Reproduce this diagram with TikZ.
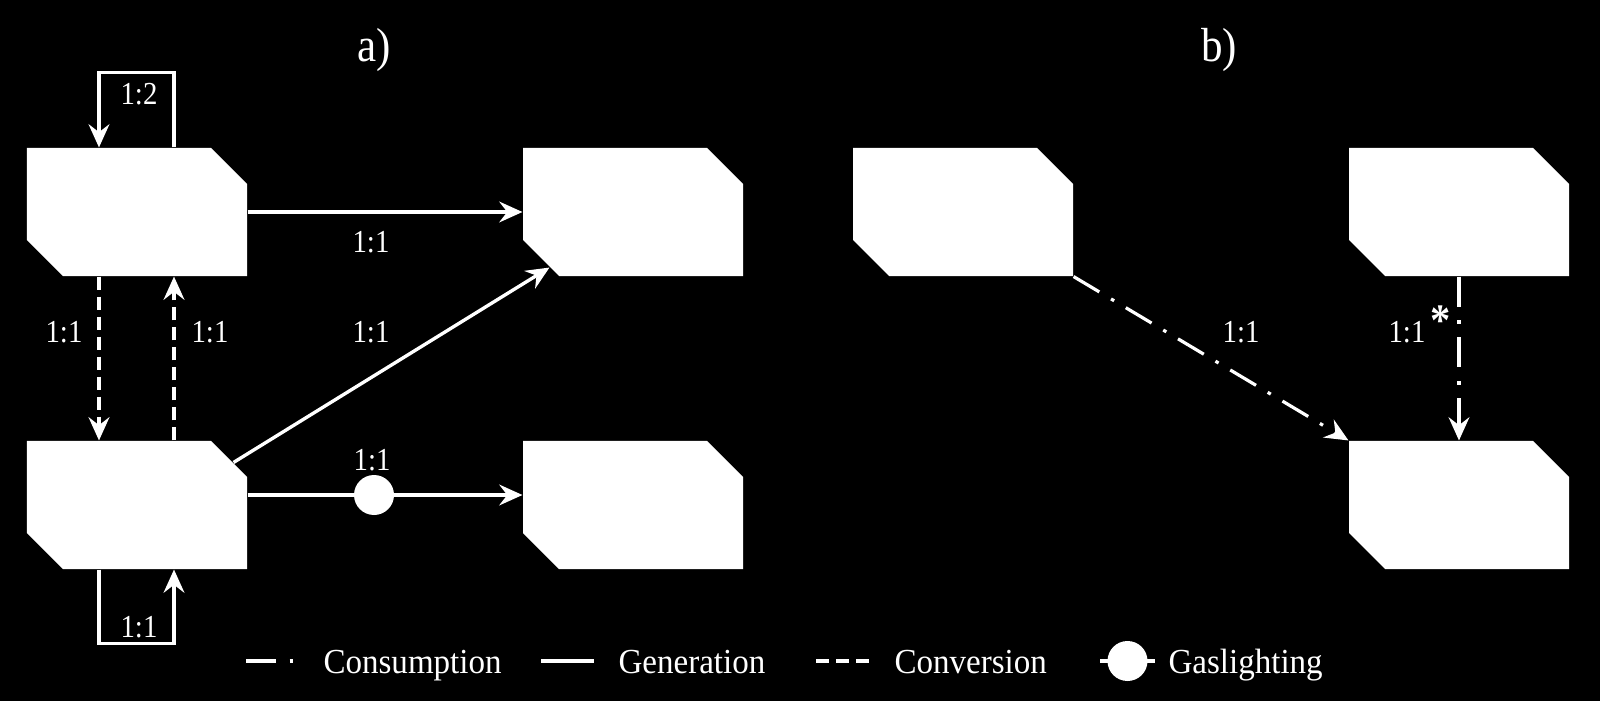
\documentclass[tikz,border=0pt]{standalone}
\usepackage{fontspec}
\setmainfont{Liberation Serif}
\newfontfamily\labfont[FakeStretch=0.9]{Liberation Serif}
\newfontfamily\legfont[FakeStretch=0.94]{Liberation Serif}
\usetikzlibrary{positioning,arrows.meta,calc}

\begin{document}
\begin{tikzpicture}[x=0.125mm, y=-0.125mm,
  tip/.style={-{Stealth[length=2.9mm, width=2.6mm, inset=1mm]}},
  gen/.style={white, line width=0.42mm},
  conv/.style={white, line width=0.56mm, dash pattern=on 1.625mm off 0.875mm},
  cons/.style={white, line width=0.4mm, dash pattern=on 3.75mm off 1.7mm on 0.45mm off 1.7mm},
  blk/.style={minimum width=27.5mm, minimum height=16mm, inner sep=0pt,
    path picture={\fill[white] (path picture bounding box.north west)
      -- ([xshift=-4.5mm]path picture bounding box.north east)
      -- ([yshift=-4.5mm]path picture bounding box.north east)
      -- (path picture bounding box.south east)
      -- ([xshift=4.5mm]path picture bounding box.south west)
      -- ([yshift=4.5mm]path picture bounding box.south west) -- cycle;}},
  gas/.style={circle, fill=white, minimum size=5mm, inner sep=0pt},
  lab/.style={white, font=\labfont\fontsize{11.4}{13}\selectfont, inner sep=0pt, anchor=base},
  ttl/.style={white, font=\labfont\fontsize{17}{20}\selectfont, inner sep=0pt, anchor=base},
  leg/.style={white, font=\legfont\fontsize{12.5}{14}\selectfont, inner sep=0pt, anchor=base west}]
% background
\path[use as bounding box, fill=black] (0,0) rectangle (1600,701);
% panel titles
\node[ttl] (ta) at (374,62) {a)};
\node[ttl] (tb) at (1219,62) {b)};
% boxes of panel a
\node[blk] (A1) at (137,212) {};
\node[blk] (B1) at (633,212) {};
\node[blk] (A2) at (137,505) {};
\node[blk] (B2) at (633,505) {};
% boxes of panel b
\node[blk] (C1) at (963,212) {};
\node[blk] (D1) at (1459,212) {};
\node[blk] (D2) at (1459,505) {};
% self loops
\draw[gen, tip] ($(A1.north)+(37,0)$) -- ++(0,-75) -| ($(A1.north)+(-38,0)$);
\node[lab] (l1) at (139,105) {1:2};
\draw[gen, tip] ($(A2.south)+(-38,0)$) -- ++(0,74) -| ($(A2.south)+(37,0)$);
\node[lab] (l7) at (139,637) {1:1};
% generation
\draw[gen, tip] (A1.east) -- (B1.west);
\node[lab] (l2) at (371,252) {1:1};
\draw[gen, tip] ($(A2.north east)+(-14,22)$) -- ($(B1.south west)+(27,-9)$);
\node[lab] (l5) at (371,343) {1:1};
% conversion
\draw[conv, tip] ($(A1.south)+(-38,0)$) -- ($(A2.north)+(-38,0)$);
\node[lab] (l3) at (64,343) {1:1};
\draw[conv, tip] ($(A2.north)+(37,0)$) -- ($(A1.south)+(37,0)$);
\node[lab] (l4) at (210,343) {1:1};
% gaslighting
\draw[gen, tip] ($(A2.east)+(0,-10)$) -- node[gas, pos=0.46] (g1) {} ($(B2.west)+(0,-10)$);
\node[lab] (l6) at ($(g1.north)+(-2,-3)$) {1:1};
% consumption
\draw[cons, tip] (C1.south east) -- (D2.north west);
\node[lab] (l8) at (1241,343) {1:1};
\draw[cons, tip] (D1.south) -- (D2.north);
\node[lab, anchor=base west] (l9) at (1388,343) {1:1\hspace{0.6mm}\raisebox{0.9mm}{\fontsize{16}{16}\selectfont\bfseries *}};
% legend
\node[leg] (t1) at (323,673) {Consumption};
\node[leg] (t2) at (618,673) {Generation};
\node[leg] (t3) at (894,673) {Conversion};
\node[leg] (t4) at (1168,673) {Gaslighting};
\draw[cons] ($(t1.base west)+(-77,-12)$) -- ($(t1.base west)+(-27,-12)$);
\draw[gen] ($(t2.base west)+(-77,-12)$) -- ($(t2.base west)+(-24,-12)$);
\draw[conv] ($(t3.base west)+(-78,-12)$) -- ($(t3.base west)+(-25,-12)$);
\draw[gen] ($(t4.base west)+(-68,-12)$) -- node[gas] (g2) {} ($(t4.base west)+(-13,-12)$);
\end{tikzpicture}
\end{document}
